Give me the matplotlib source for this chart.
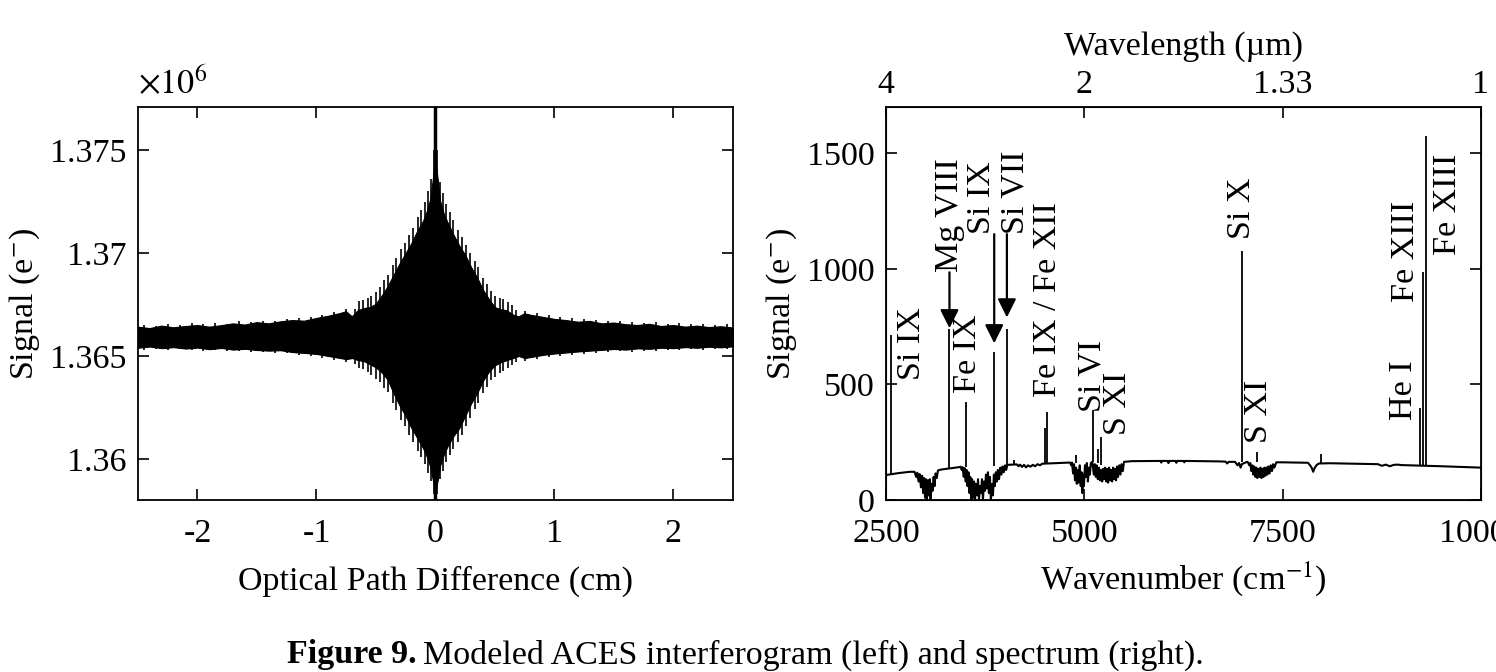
import matplotlib
matplotlib.use('Agg')
import matplotlib.pyplot as plt
from matplotlib.ticker import FuncFormatter

plt.rcParams['font.family'] = 'serif'
plt.rcParams['font.serif'] = ['Liberation Serif', 'DejaVu Serif']
plt.rcParams['mathtext.fontset'] = 'stix'
FS = 24.5

# ---- interferogram (left), solid body ----
opd = [-2.5, -2.4, -2.3, -2.2, -2.1, -2.0, -1.9, -1.8, -1.7, -1.6, -1.5, -1.4, -1.3, -1.2, -1.1,
       -1.0, -0.9, -0.8, -0.75, -0.7, -0.65, -0.6, -0.55, -0.5, -0.45, -0.4, -0.35, -0.3, -0.25,
       -0.2, -0.15, -0.1, -0.07, -0.04, -0.02, 0.0, 0.02, 0.04, 0.07, 0.1, 0.15, 0.2, 0.25, 0.3,
       0.35, 0.4, 0.45, 0.5, 0.55, 0.6, 0.65, 0.7, 0.75, 0.8, 0.9, 1.0, 1.1, 1.2, 1.3, 1.4, 1.5,
       1.6, 1.7, 1.8, 1.9, 2.0, 2.1, 2.2, 2.3, 2.4, 2.5]
igm_upper = [1366400, 1366330, 1366450, 1366370, 1366430, 1366480, 1366400, 1366470, 1366560,
             1366500, 1366620, 1366560, 1366660, 1366720, 1366690, 1366820, 1366930, 1367060,
             1367150, 1366900, 1367200, 1367300, 1367350, 1367500, 1367900, 1368350, 1368900,
             1369450, 1369950, 1370450, 1371050, 1371550, 1372000, 1372600, 1373500, 1374500,
             1373500, 1372500, 1371900, 1371500, 1370900, 1370350, 1369900, 1369300, 1368800,
             1368200, 1367750, 1367350, 1367250, 1367200, 1367000, 1366900, 1367050, 1366980,
             1366880, 1366780, 1366720, 1366640, 1366680, 1366560, 1366600, 1366520, 1366480,
             1366540, 1366430, 1366480, 1366400, 1366450, 1366380, 1366420, 1366360]
igm_lower = [1365400, 1365460, 1365380, 1365430, 1365360, 1365410, 1365330, 1365390, 1365310,
             1365350, 1365290, 1365260, 1365280, 1365190, 1365150, 1365100, 1365000, 1364900,
             1364850, 1364900, 1364800, 1364750, 1364600, 1364450, 1364200, 1363850, 1363200,
             1362600, 1362100, 1361500, 1361000, 1360500, 1360100, 1359600, 1359000, 1358500,
             1359000, 1359700, 1360200, 1360600, 1361100, 1361500, 1362100, 1362700, 1363200,
             1363800, 1364250, 1364550, 1364700, 1364800, 1364900, 1365000, 1364900, 1364950,
             1365050, 1365120, 1365170, 1365220, 1365260, 1365300, 1365340, 1365310, 1365370,
             1365350, 1365400, 1365380, 1365430, 1365400, 1365450, 1365420, 1365470]

# individual fringe tips sticking out of the body
spike_x = [-2.45, -2.35, -2.25, -2.15, -2.05, -1.95, -1.85, -1.75, -1.65, -1.55, -1.45, -1.35,
           -1.25, -1.15, -1.05, -0.95, -0.85, -0.75,
           -0.68, -0.64, -0.61, -0.57, -0.54, -0.5, -0.47, -0.43, -0.4, -0.36, -0.33, -0.29,
           -0.26, -0.22, -0.19, -0.15, -0.12, -0.09, -0.06, -0.035, -0.012,
           0.012, 0.035, 0.06, 0.09, 0.12, 0.15, 0.19, 0.22, 0.26, 0.29, 0.33, 0.36, 0.4, 0.43,
           0.47, 0.5, 0.54, 0.57, 0.61, 0.64, 0.68,
           0.75, 0.85, 0.95, 1.05, 1.15, 1.25, 1.35, 1.45, 1.55, 1.65, 1.75, 1.85, 1.95, 2.05,
           2.15, 2.25, 2.35, 2.45]
spike_hi = [1366520, 1366480, 1366550, 1366500, 1366580, 1366530, 1366600, 1366560, 1366680,
            1366640, 1366720, 1366700, 1366800, 1366860, 1366900, 1367000, 1367150, 1367300,
            1367300, 1367670, 1367730, 1367810, 1367900, 1368100, 1368340, 1368680, 1368950,
            1369430, 1369770, 1370200, 1370500, 1370900, 1371230, 1371750, 1372080, 1372470,
            1373030, 1373600, 1375000,
            1375000, 1373450, 1372930, 1372410, 1371990, 1371600, 1371120, 1370800, 1370380,
            1370020, 1369600, 1369300, 1368800, 1368500, 1368140, 1367900, 1367820, 1367760,
            1367640, 1367460, 1367250,
            1367200, 1367100, 1366980, 1366900, 1366850, 1366780, 1366760, 1366700, 1366720,
            1366640, 1366620, 1366650, 1366560, 1366600, 1366540, 1366570, 1366500, 1366540]
spike_lo = [1365300, 1365330, 1365290, 1365320, 1365280, 1365260, 1365300, 1365230, 1365260,
            1365200, 1365180, 1365160, 1365120, 1365060, 1365000, 1364900, 1364780, 1364700,
            1364600, 1364430, 1364370, 1364200, 1364060, 1363900, 1363720, 1363460, 1363250,
            1362730, 1362360, 1361900, 1361600, 1361140, 1360800, 1360400, 1360100, 1359770,
            1359330, 1358900, 1358300,
            1358300, 1359000, 1359430, 1359870, 1360200, 1360500, 1360820, 1361140, 1361620,
            1361980, 1362400, 1362700, 1363200, 1363500, 1363820, 1364000, 1364160, 1364260,
            1364400, 1364550, 1364720,
            1364750, 1364850, 1364950, 1365000, 1365050, 1365100, 1365130, 1365180, 1365220,
            1365200, 1365260, 1365240, 1365300, 1365280, 1365320, 1365300, 1365340, 1365320]
zpd_spike = [1357000, 1378000]

# ---- spectrum (right) ----
cont_wn = [2500, 2650, 2800, 3200, 3420, 4080, 4600, 4800, 5600, 5900, 6500, 6700, 7050, 7500,
           7800, 8100, 8600, 9000, 9500, 10000]
cont_sig = [108, 116, 122, 132, 142, 153, 159, 162, 168, 169, 168, 167, 165, 163, 161, 159, 156,
            151, 146, 140]

# absorption bands, zig-zag points
band_wn = [2860, 2880, 2895, 2910, 2925, 2940, 2955, 2968, 2980, 2992, 3005, 3015, 3028, 3040,
           3052, 3062, 3075, 3088, 3100, 3112, 3125, 3140, 3155,
           3440, 3455, 3465, 3480, 3492, 3505, 3515, 3528, 3540, 3552, 3562, 3575, 3585, 3597,
           3610, 3622, 3635, 3648, 3660, 3672, 3685, 3697, 3710, 3722, 3735, 3748, 3760, 3772,
           3785, 3797, 3810, 3822, 3835, 3848, 3860, 3872, 3885, 3898, 3910, 3925, 3940, 3955,
           3970, 3985, 4000, 4015, 4030,
           4150, 4170, 4190, 4215, 4240, 4265, 4290, 4320, 4350, 4380, 4410, 4440, 4470,
           4820, 4835, 4845, 4858, 4870, 4882, 4895, 4905, 4918, 4930, 4942, 4955, 4965, 4975,
           4985, 4995, 5008, 5020, 5032, 5045, 5058, 5070, 5082, 5100, 5120, 5132, 5145, 5158,
           5170, 5185, 5198, 5212, 5225, 5238, 5250, 5262, 5275, 5288, 5300, 5312, 5325, 5338,
           5350, 5362, 5375, 5388, 5400, 5412, 5425, 5440, 5455, 5470, 5485, 5500,
           5960, 5970, 5980, 6050, 6060, 6070, 6150, 6160, 6170, 6250, 6260, 6270,
           6780, 6800, 6820, 6900, 6930, 6950, 6970, 6985,
           7060, 7080, 7092, 7105, 7118, 7130, 7142, 7155, 7168, 7180, 7195, 7208, 7220, 7232,
           7245, 7258, 7270, 7282, 7295, 7308, 7320, 7335, 7350, 7365, 7380, 7395, 7420,
           7820, 7845, 7865, 7885, 7905, 7930, 7960,
           8700, 8750, 8800, 8850, 8900, 8950]
band_sig = [122, 100, 118, 80, 112, 55, 105, 30, 95, 10, 90, 0, 85, 20,
            90, 0, 70, 40, 100, 60, 115, 95, 128,
            144, 130, 142, 100, 138, 80, 130, 60, 120, 30, 100, 0, 90, 10,
            80, 0, 70, 20, 90, 0, 60, 30, 90, 0, 80, 40, 110, 50,
            120, 30, 100, 0, 70, 20, 110, 60, 120, 80, 130, 90, 140, 110,
            145, 120, 150, 130, 152,
            154, 146, 153, 143, 152, 141, 150, 144, 152, 146, 155, 150, 157,
            162, 150, 162, 115, 155, 85, 140, 70, 130, 75, 150, 60, 120, 30,
            110, 60, 150, 100, 160, 80, 140, 110, 160, 165, 110, 155, 100, 150,
            90, 140, 85, 130, 80, 135, 90, 140, 80, 135, 75, 140, 85, 130,
            80, 140, 90, 135, 85, 145, 100, 150, 110, 155, 125, 165,
            169, 162, 169, 169, 160, 169, 169, 161, 169, 169, 163, 169,
            166, 158, 165, 165, 150, 160, 140, 155,
            164, 150, 160, 125, 150, 110, 145, 100, 140, 95, 135, 100, 140, 95,
            135, 100, 140, 105, 140, 110, 145, 115, 150, 125, 155, 140, 163,
            161, 150, 140, 122, 140, 152, 158,
            155, 148, 153, 146, 152, 153]

# emission lines
line_wn = [2559, 3300, 3506, 3864, 4024, 4117, 4504, 4529, 4896, 5105, 5168, 5211, 6991, 7181,
           7989, 9234, 9272, 9310]
line_base = [111, 138, 144, 149, 152, 154, 158, 158, 160, 165, 160, 150, 166, 164, 160, 148, 148,
             147]
line_peak = [712, 738, 424, 640, 741, 175, 311, 379, 195, 390, 220, 272, 1077, 209, 199, 396, 986,
             1573]

# labels: text, wavenumber, signal at text foot
ion_text = ['Si IX', 'Mg VIII', 'Fe IX', 'Si IX', 'Si VII', 'Fe IX / Fe XII', 'Si VI', 'S XI',
            'Si X', 'S XI', 'He I', 'Fe XIII', 'Fe XIII']
ion_wn = [2828, 3308, 3535, 3712, 4129, 4533, 5101, 5420, 6983, 7198, 9028, 9053, 9583]
ion_sig = [518, 985, 462, 1150, 1150, 446, 381, 281, 1130, 245, 345, 856, 1058]

# arrows: wavenumber, start, tip
arrow_wn = [3300, 3864, 4024]
arrow_from = [985, 1150, 1150]
arrow_to = [743, 678, 790]

wl_ticks = [2500, 5000, 7500, 10000]

fig = plt.figure(figsize=(14.96, 6.72), dpi=100)
ax1 = fig.add_axes([138 / 1496, 172 / 672, 595 / 1496, 393 / 672])
ax2 = fig.add_axes([886 / 1496, 172 / 672, 595 / 1496, 393 / 672])

# left
ax1.fill_between(opd, igm_lower, igm_upper, color='k', lw=0.8)
ax1.plot(opd, igm_upper, color='k', lw=0.8)
ax1.plot(opd, igm_lower, color='k', lw=0.8)
ax1.vlines(spike_x, spike_lo, spike_hi, color='k', lw=1.2)
ax1.vlines([0.0], zpd_spike[0], zpd_spike[1], color='k', lw=2.5)
ax1.set_xlim(-2.5, 2.5)
ax1.set_ylim(1.358e6, 1.3771e6)
ax1.set_xticks([-2, -1, 0, 1, 2])
ax1.set_yticks([1.36e6, 1.365e6, 1.37e6, 1.375e6])
ax1.yaxis.set_major_formatter(FuncFormatter(lambda v, p: '%g' % round(v / 1e6, 4)))
ax1.xaxis.set_major_formatter(FuncFormatter(lambda v, p: '%g' % v))
ax1.text(0.0, 1.015, r'$\times10^{6}$', transform=ax1.transAxes, fontsize=FS, ha='left', va='bottom')
ax1.set_xlabel('Optical Path Difference (cm)', fontsize=FS, labelpad=12)
ax1.set_ylabel('Signal (e$^{-}$)', fontsize=FS, labelpad=6)

# right
spec = sorted(zip(cont_wn + band_wn, cont_sig + band_sig))
ax2.plot([s[0] for s in spec], [s[1] for s in spec], color='k', lw=1.5)
ax2.vlines(line_wn, line_base, line_peak, color='k', lw=1.3)
for t, w, s in zip(ion_text, ion_wn, ion_sig):
    ax2.text(w, s, t, rotation=90, ha='center', va='bottom', fontsize=FS)
for w, a, b in zip(arrow_wn, arrow_from, arrow_to):
    ax2.annotate('', xy=(w, b), xytext=(w, a),
                 arrowprops=dict(arrowstyle='-|>', color='k', lw=1.6, mutation_scale=28,
                                 shrinkA=0, shrinkB=0))
ax2.set_xlim(2500, 10000)
ax2.set_ylim(0, 1700)
ax2.set_xticks([2500, 5000, 7500, 10000])
ax2.set_yticks([0, 500, 1000, 1500])
ax2.set_xlabel('Wavenumber (cm$^{-1}$)', fontsize=FS, labelpad=8)
ax2.set_ylabel('Signal (e$^{-}$)', fontsize=FS, labelpad=6)

top = ax2.twiny()
top.set_xlim(ax2.get_xlim())
top.set_xticks(wl_ticks)
top.set_xticklabels(['%.3g' % (1e4 / w) for w in wl_ticks])
top.set_xlabel('Wavelength (\u00b5m)', fontsize=FS, labelpad=11)
top.tick_params(direction='in', length=8, width=1.2, labelsize=FS, pad=5)

for ax in (ax1, ax2):
    ax.tick_params(direction='in', length=8, width=1.2, labelsize=FS)
    ax.tick_params(axis='x', pad=13)
    ax.tick_params(axis='y', pad=8, right=True)
    for s in ax.spines.values():
        s.set_linewidth(1.3)
ax1.tick_params(top=True)

t1 = fig.text(287 / 1496, 17 / 672, 'Figure 9.', fontsize=FS, weight='bold', va='center')
fig.canvas.draw()
bb = t1.get_window_extent()
fig.text(bb.x1 / 1496 + 6 / 1496, 17 / 672,
         'Modeled ACES interferogram (left) and spectrum (right).', fontsize=FS, va='center')

fig.savefig('out.png', dpi=100)
